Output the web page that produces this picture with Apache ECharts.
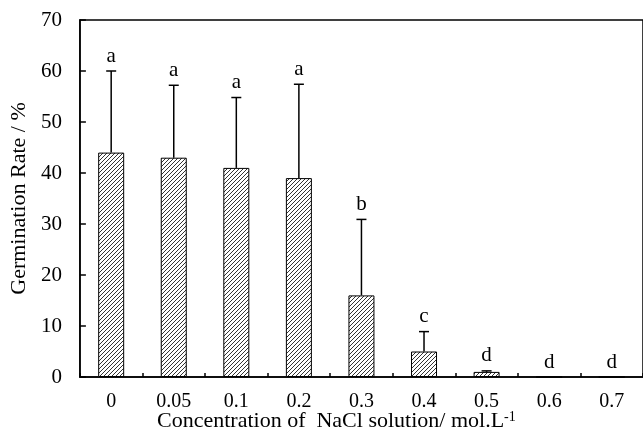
<!DOCTYPE html>
<html><head><meta charset="utf-8">
<script src="https://cdn.jsdelivr.net/npm/echarts@6/dist/echarts.min.js"></script>
<style>html,body{margin:0;padding:0;background:#fff}#c{width:643px;height:433px}</style>
</head><body><div id="c"></div>
<script>
var categories = ['0','0.05','0.1','0.2','0.3','0.4','0.5','0.6','0.7'];
var rates = [44, 43, 41, 39, 16, 5, 1, 0, 0];
var errors = [16, 14.2, 13.8, 18.4, 14.9, 3.9, 0.2, 0, 0];
var letters = ['a','a','a','a','b','c','d','d','d'];
var yTicks = [0, 10, 20, 30, 40, 50, 60, 70];

var FONT = '"Liberation Serif", "Times New Roman", serif';

var pc = document.createElement('canvas');
pc.width = 4; pc.height = 4;
var g = pc.getContext('2d');
g.fillStyle = '#ffffff'; g.fillRect(0,0,4,4);
g.strokeStyle = '#333'; g.lineWidth = 1;
g.beginPath();
g.moveTo(-1,5); g.lineTo(5,-1);
g.moveTo(-1,1); g.lineTo(1,-1);
g.moveTo(3,5); g.lineTo(5,3);
g.stroke();

var chart = echarts.init(document.getElementById('c'), null, {renderer:'canvas'});
var errData = categories.map(function(c,i){ return [i, rates[i], errors[i]]; });

chart.setOption({
  animation: false,
  backgroundColor: '#fff',
  grid: { left: 78, top: 20, width: 576, height: 357, show: true, borderColor: '#000', borderWidth: 1.5, backgroundColor: 'transparent' },
  title: {
    text: 'Concentration of  NaCl solution/ mol.L{sup|-1}',
    left: 152, top: 405,
    textStyle: { fontFamily: FONT, fontSize: 22, fontWeight: 'normal', color: '#000',
      rich: { sup: { fontFamily: FONT, fontSize: 14, verticalAlign: 'top', padding: [0,0,9,0], color:'#000' } } }
  },
  xAxis: {
    type: 'category', data: categories,
    axisLine: { lineStyle: { color: '#000', width: 1.5 } },
    axisTick: { show: true, inside: true, length: 4, alignWithLabel: false, lineStyle: { color: '#000', width: 1.5 } },
    axisLabel: { fontFamily: FONT, fontSize: 20, color: '#000', margin: 15 },
    splitLine: { show: false }
  },
  yAxis: {
    type: 'value', min: yTicks[0], max: yTicks[yTicks.length-1], interval: 10,
    name: 'Germination Rate / %', nameLocation: 'middle', nameGap: 45,
    nameTextStyle: { fontFamily: FONT, fontSize: 22, color: '#000' },
    axisLine: { show: true, lineStyle: { color: '#000', width: 1.5 } },
    axisTick: { show: true, inside: true, length: 6, lineStyle: { color: '#000', width: 1.5 } },
    axisLabel: { fontFamily: FONT, fontSize: 21, color: '#000', margin: 18 },
    splitLine: { show: false }
  },
  series: [
    { type: 'bar', data: rates, barWidth: 26,
      itemStyle: { color: { image: pc, repeat: 'repeat' }, borderColor: '#000', borderWidth: 1 } },
    { type: 'custom', data: errData, z: 10,
      renderItem: function(params, api){
        var x = api.value(0), v = api.value(1), e = api.value(2);
        var base = api.coord([x, v]);
        var top = api.coord([x, v + e]);
        var children = [];
        if (e > 0) {
          children.push({ type:'line', shape:{x1:base[0], y1:base[1], x2:top[0], y2:top[1]}, style:{stroke:'#000', lineWidth:1.5} });
          children.push({ type:'line', shape:{x1:top[0]-5, y1:top[1], x2:top[0]+5, y2:top[1]}, style:{stroke:'#000', lineWidth:1.5} });
        }
        children.push({ type:'text', style:{ text: letters[params.dataIndex], x: top[0], y: top[1] - 15,
          textAlign:'center', textVerticalAlign:'middle', font: '21px ' + FONT, fill:'#000' } });
        return { type:'group', children: children };
      }
    }
  ]
});
</script></body></html>
